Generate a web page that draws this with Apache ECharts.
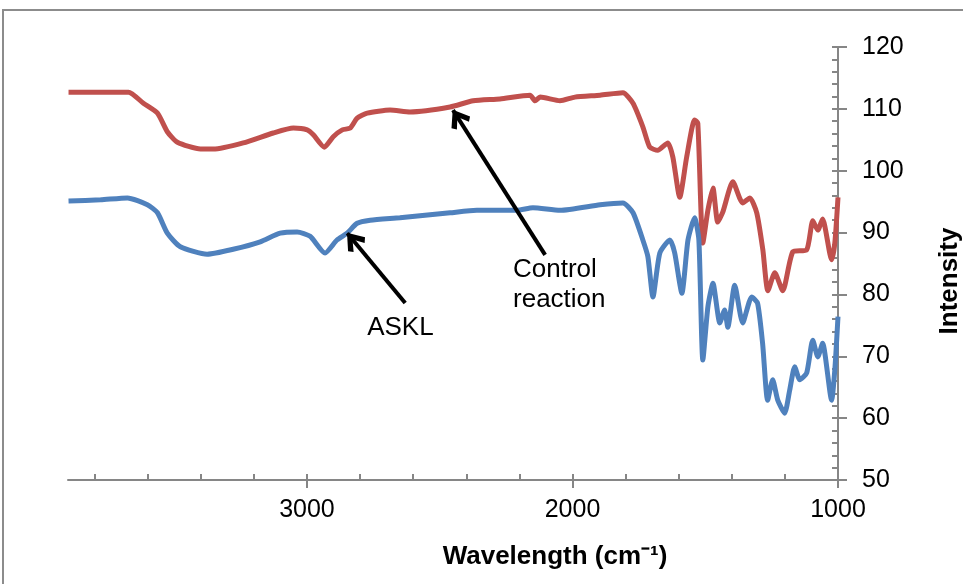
<!DOCTYPE html>
<html>
<head>
<meta charset="utf-8">
<script src="https://cdn.jsdelivr.net/npm/echarts@6/dist/echarts.min.js"></script>
<style>
html,body{margin:0;padding:0;background:#fff;}
#chart{width:963px;height:584px;}
</style>
</head>
<body>
<div id="chart"></div>
<script>
// spectra (wavenumber, intensity)
var controlWn = [3898, 3777, 3672, 3616, 3563, 3526, 3488, 3401, 3353, 3240, 3127, 3051, 2999, 2976, 2935, 2901, 2867, 2837, 2811, 2773, 2687, 2612, 2461, 2374, 2273, 2160, 2141, 2122, 2047, 1991, 1896, 1810, 1772, 1735, 1709, 1679, 1641, 1622, 1596, 1570, 1540, 1528, 1509, 1490, 1471, 1453, 1434, 1396, 1359, 1332, 1306, 1283, 1264, 1238, 1208, 1170, 1118, 1095, 1076, 1058, 1024, 1012, 1000];
var controlVal = [112.7, 112.7, 112.7, 110.9, 109.3, 106.3, 104.6, 103.5, 103.5, 104.5, 106.1, 106.9, 106.6, 105.8, 103.8, 105.5, 106.6, 106.9, 108.5, 109.3, 109.8, 109.5, 110.3, 111.3, 111.6, 112.2, 111.3, 111.9, 111.3, 111.9, 112.2, 112.6, 110.9, 107.1, 103.8, 103.3, 104.5, 102.2, 95.7, 102.2, 108.2, 107.7, 88.3, 93.6, 97.2, 91.7, 93.3, 98.2, 94.8, 95.6, 93.2, 87.2, 80.6, 83.5, 80.6, 86.9, 87.2, 91.9, 90.4, 92.2, 85.6, 88.3, 95.7];

var asklWn = [3898, 3777, 3676, 3601, 3563, 3526, 3477, 3376, 3278, 3176, 3101, 3037, 2988, 2932, 2887, 2849, 2811, 2762, 2650, 2461, 2360, 2209, 2149, 2047, 1896, 1810, 1772, 1735, 1716, 1697, 1671, 1633, 1615, 1588, 1565, 1540, 1524, 1509, 1490, 1471, 1445, 1427, 1415, 1389, 1359, 1325, 1303, 1284, 1265, 1246, 1227, 1201, 1182, 1163, 1144, 1118, 1095, 1076, 1058, 1024, 1012, 1000];
var asklVal = [95.1, 95.3, 95.6, 94.5, 93.2, 89.9, 87.7, 86.5, 87.3, 88.5, 89.9, 90.1, 89.4, 86.7, 88.8, 89.9, 91.5, 92.0, 92.4, 93.2, 93.6, 93.6, 94.0, 93.6, 94.5, 94.8, 93.2, 88.8, 86.1, 79.6, 86.7, 88.8, 86.7, 80.2, 88.8, 92.4, 88.8, 69.4, 78.0, 81.8, 75.4, 77.5, 74.7, 81.5, 75.4, 79.6, 78.6, 72.1, 62.9, 66.2, 62.9, 60.8, 64.5, 68.3, 66.2, 67.3, 72.6, 69.9, 72.1, 62.9, 67.8, 76.4];

var xMajorTicks = [1000, 2000, 3000];
var xMinorTicks = [1000, 1200, 1400, 1600, 1800, 2000, 2200, 2400, 2600, 2800, 3000, 3200, 3400, 3600, 3800];

// annotation text and arrows, in data coordinates
var noteLabels = ['ASKL', 'Control\nreaction'];
var notePos = [[2648, 74.6], [2224, 81.6]];
var arrowFrom = [[2630, 78.6], [2103, 86.4]];
var arrowTo = [[2848, 89.9], [2450, 109.8]];

function zip(a, b) {
    return a.map(function (v, i) { return [v, b[i]]; });
}

var chart = echarts.init(document.getElementById('chart'));
var font = "'Liberation Sans', Arial, sans-serif";
var axisGray = '#868686';
// open chevron head, tip at the top
var chevron = 'path://M10,0 L20,13 L16.5,16.5 L10,7.5 L3.5,16.5 L0,13 Z';

var option = {
    animation: false,
    textStyle: { fontFamily: font },
    grid: { left: 68, right: 125, top: 47, bottom: 104, containLabel: false, outerBoundsMode: 'none' },
    graphic: [
        {
            type: 'rect',
            shape: { x: 3, y: 10, width: 1000, height: 1000 },
            style: { fill: 'none', stroke: '#8c8c8c', lineWidth: 2 },
            silent: true
        },
        {
            type: 'text',
            x: 555, y: 557,
            style: {
                text: 'Wavelength (cm\u207B\u00B9)',
                font: 'bold 26px ' + font,
                fill: '#000',
                align: 'center',
                verticalAlign: 'middle'
            }
        },
        {
            type: 'text',
            x: 950, y: 281,
            rotation: Math.PI / 2,
            style: {
                text: 'Intensity',
                font: 'bold 26px ' + font,
                fill: '#000',
                align: 'center',
                verticalAlign: 'middle'
            }
        }
    ],
    xAxis: [{
        type: 'value',
        inverse: true,
        min: 1000,
        max: 3900,
        position: 'bottom',
        splitLine: { show: false },
        axisLine: { lineStyle: { color: axisGray, width: 2 } },
        axisTick: { customValues: xMajorTicks, length: 8, lineStyle: { color: axisGray, width: 2 } },
        axisLabel: {
            customValues: xMajorTicks,
            formatter: function (v) { return String(v); },
            margin: 18,
            color: '#000',
            fontSize: 25,
            fontFamily: font
        }
    }, {
        type: 'value',
        inverse: true,
        min: 1000,
        max: 3900,
        position: 'bottom',
        splitLine: { show: false },
        axisLine: { show: false },
        axisTick: { inside: true, customValues: xMinorTicks, length: 6, lineStyle: { color: axisGray, width: 2 } },
        axisLabel: { show: false }
    }],
    yAxis: [{
        type: 'value',
        position: 'right',
        min: 50,
        max: 120,
        interval: 10,
        splitLine: { show: false },
        axisLine: { show: true, lineStyle: { color: axisGray, width: 2 } },
        axisTick: { show: true, length: 9, lineStyle: { color: axisGray, width: 2 } },
        axisLabel: { margin: 24, color: '#000', fontSize: 25, fontFamily: font }
    }, {
        type: 'value',
        position: 'right',
        min: 50,
        max: 120,
        interval: 2,
        splitLine: { show: false },
        axisLine: { show: false },
        axisTick: { show: true, inside: true, length: 6, lineStyle: { color: axisGray, width: 2 } },
        axisLabel: { show: false }
    }],
    series: [
        {
            name: 'Control reaction',
            type: 'line',
            data: zip(controlWn, controlVal),
            showSymbol: false,
            smooth: 0.2,
            lineStyle: { color: '#C0504D', width: 5 },
            itemStyle: { color: '#C0504D' }
        },
        {
            name: 'ASKL',
            type: 'line',
            data: zip(asklWn, asklVal),
            showSymbol: false,
            smooth: 0.2,
            lineStyle: { color: '#4F81BD', width: 5 },
            itemStyle: { color: '#4F81BD' }
        },
        {
            name: 'notes',
            type: 'scatter',
            symbolSize: 0,
            z: 5,
            itemStyle: { color: '#000', opacity: 1 },
            data: [
                { value: notePos[0], label: { align: 'center', formatter: noteLabels[0] } },
                { value: notePos[1], label: { align: 'left', formatter: noteLabels[1] } }
            ],
            label: {
                show: true,
                position: [0, 0],
                verticalAlign: 'middle',
                fontSize: 26,
                lineHeight: 30,
                color: '#000',
                opacity: 1,
                textBorderWidth: 0,
                textBorderColor: 'transparent',
                fontFamily: font
            },
            markLine: {
                silent: true,
                symbol: ['none', chevron],
                symbolSize: [22, 19],
                symbolOffset: [0, [0, 9]],
                label: { show: false },
                itemStyle: { color: '#000' },
                lineStyle: { color: '#000', width: 4, type: 'solid' },
                data: arrowFrom.map(function (p, i) {
                    return [{ coord: p }, { coord: arrowTo[i] }];
                })
            }
        }
    ]
};

chart.setOption(option);
window.addEventListener('resize', function () {
    chart.resize();
});
</script>
</body>
</html>
